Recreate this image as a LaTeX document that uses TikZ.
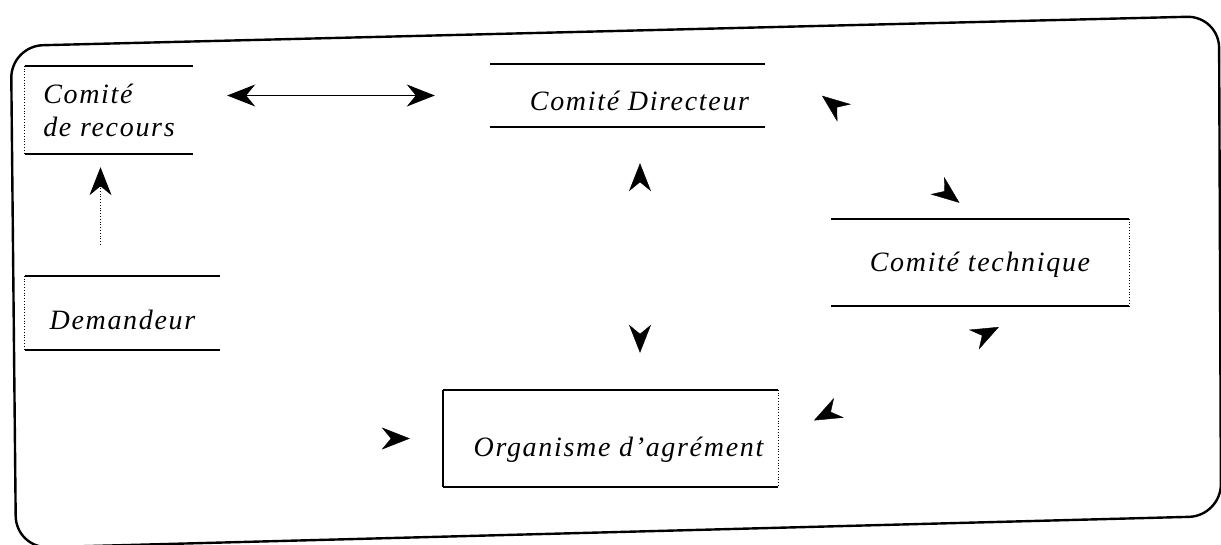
\documentclass[tikz,border=0pt]{standalone}
\usepackage{fontspec}
\setmainfont{Liberation Serif}
\usepackage{tikz}
\usetikzlibrary{arrows.meta,calc,decorations.markings}

\newcommand{\lowered}[2]{\raisebox{-#1}[\height][\depth]{#2}}

\tikzset{
  hd/.tip={Stealth[length=28pt,width=22pt,inset=9pt]},
  unit/.style={inner sep=0pt, align=left,
    font=\fontsize{28}{33}\selectfont\itshape\addfontfeatures{LetterSpace=6}},
  rule/.style={line width=1.6pt},
  side/.style={line width=0.8pt, dotted},
  link/.style={line width=1.1pt},
  frame/.style={line width=2.4pt, rounded corners=32pt},
  heads/.style 2 args={decoration={markings,
      mark=at position #1 with {\arrowreversed{hd}},
      mark=at position #2 with {\arrow{hd}}}, postaction={decorate}},
  headin/.style={decoration={markings,
      mark=at position #1 with {\arrow{hd}}}, postaction={decorate}},
}

\begin{document}
\begin{tikzpicture}[x=1pt,y=1pt,yscale=-1,xscale=1]
        \useasboundingbox (0,0) rectangle (1221,544);

        %Outer frame
        \draw[frame] (11,46) -- (1219,16) -- (1221,516) -- (16,548) -- cycle;

        % Text Node
        \node[unit, minimum width=168pt, minimum height=88pt] (rec) at (109,110) {Comité\\de recours};
        % Text Node
        \node[unit, minimum width=195pt, minimum height=74pt] (dem) at (122.5,313) {\lowered{7pt}{Demandeur}};
        % Text Node
        \node[unit, minimum width=275pt, minimum height=63pt] (dir) at (627.5,95.5) {\hspace*{24pt}\lowered{5pt}{Comité Directeur}};
        % Text Node
        \node[unit, minimum width=298pt, minimum height=87pt] (tech) at (980,262.5) {\lowered{2pt}{Comité technique}};
        % Text Node
        \node[unit, minimum width=335pt, minimum height=97pt] (org) at (610.5,438.5) {\hspace*{16pt}\lowered{11pt}{Organisme d'agrément}};

        %Box edges
        \draw[rule] (rec.north west) -- (rec.north east);
        \draw[rule] (rec.south west) -- (rec.south east);
        \draw[side] (rec.north west) -- (rec.south west);
        \draw[rule] (dem.north west) -- (dem.north east);
        \draw[rule] (dem.south west) -- (dem.south east);
        \draw[side] (dem.north west) -- (dem.south west);
        \draw[rule] (dir.north west) -- (dir.north east);
        \draw[rule] (dir.south west) -- (dir.south east);
        \draw[rule] (tech.north west) -- (tech.north east);
        \draw[rule] (tech.south west) -- (tech.south east);
        \draw[side] (tech.north east) -- (tech.south east);
        \draw[rule] (org.north west) -- (org.north east);
        \draw[rule] (org.south west) -- (org.south east);
        \draw[rule] (org.north west) -- (org.south west);
        \draw[side] (org.north east) -- (org.south east);

        %Straight Lines
        \draw[link, hd-hd, shorten <=34pt, shorten >=55pt] (rec.east |- dir.west) -- (dir.west);
        \coordinate (dl) at ($(dem.north)+(-22,0)$);
        \draw[side, -hd, shorten <=31pt, shorten >=13pt] (dl) -- (dl |- rec.south);

        %Arrow heads only
        \coordinate (dv) at ($(dir.south)+(12.5,0)$);
        \path[heads={36pt}{-37pt}] (dv) -- (dv |- org.north);
        \path[heads={72pt}{-26pt}] ($(dir.east)+(0,-44)$) -- (tech.north);
        \path[heads={40pt}{-46pt}] (org.east) -- ($(tech.south)+(60,0)$);
        \path[headin={-33pt}] (dem.south) |- (org.west);

\end{tikzpicture}
\end{document}
